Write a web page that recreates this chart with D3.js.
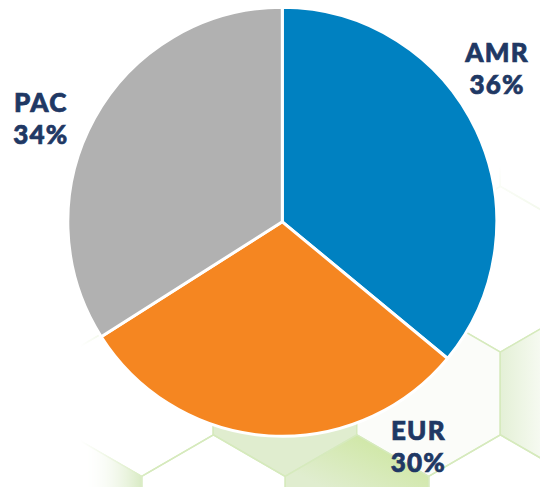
<!DOCTYPE html>
<html>
<head>
<meta charset="utf-8">
<script src="https://cdn.jsdelivr.net/npm/d3@7"></script>
<style>
	html, body { margin: 0; padding: 0; background: #fff; }
	svg { display: block; }
</style>
</head>
<body>
<div id="chart"></div>
<script>
// chart data
const regions = ['AMR', 'EUR', 'PAC'];
const shares = [36, 30, 34];
const colors = ['#0081c1', '#f58621', '#b1b1b1'];

const width = 540, height = 487;
const cx = 282.3, cy = 221.8, radius = 214.5;
const labelRadius = 263;
const labelAngles = [54.5, 149, 293]; // degrees clockwise from 12 o'clock

const svg = d3.select('#chart').append('svg')
	.attr('width', width)
	.attr('height', height)
	.attr('viewBox', `0 0 ${width} ${height}`);

const defs = svg.append('defs');

// ---- background hexagon pattern ----
const hexW = 143.5, hexS = hexW / Math.sqrt(3), rowPitch = 1.5 * hexS;
const rowY0 = 393.5;

const fadeX = defs.append('linearGradient').attr('id', 'fadeX')
	.attr('gradientUnits', 'userSpaceOnUse')
	.attr('x1', 80).attr('y1', 0).attr('x2', 150).attr('y2', 0);
fadeX.append('stop').attr('offset', '0%').attr('stop-color', '#000');
fadeX.append('stop').attr('offset', '100%').attr('stop-color', '#fff');
defs.append('mask').attr('id', 'maskX').attr('maskUnits', 'userSpaceOnUse')
	.attr('x', 0).attr('y', 0).attr('width', width).attr('height', height)
	.append('rect').attr('width', width).attr('height', height).attr('fill', 'url(#fadeX)');

const fadeY = defs.append('linearGradient').attr('id', 'fadeY')
	.attr('gradientUnits', 'userSpaceOnUse')
	.attr('x1', 0).attr('y1', 165).attr('x2', 0).attr('y2', 330);
fadeY.append('stop').attr('offset', '0%').attr('stop-color', '#000');
fadeY.append('stop').attr('offset', '100%').attr('stop-color', '#fff');
defs.append('mask').attr('id', 'maskY').attr('maskUnits', 'userSpaceOnUse')
	.attr('x', 0).attr('y', 0).attr('width', width).attr('height', height)
	.append('rect').attr('width', width).attr('height', height).attr('fill', 'url(#fadeY)');

const makeGrad = function(id, x1, y1, x2, y2, c1, c2) {
	let g = defs.append('linearGradient').attr('id', id)
		.attr('gradientUnits', 'userSpaceOnUse')
		.attr('x1', x1).attr('y1', y1).attr('x2', x2).attr('y2', y2);
	g.append('stop').attr('offset', '0%').attr('stop-color', c1);
	g.append('stop').attr('offset', '100%').attr('stop-color', c2);
	return `url(#${id})`;
}

// fills of a few tiles, keyed "row:centerX"
const hexFills = {
	'0:285': '#e0edcf',
	'1:70': makeGrad('gB70', 141, 0, 84, 0, '#d4e8bd', '#ffffff'),
	'1:357': makeGrad('gB357', 380, 438, 350, 500, '#cfe7a4', '#e0edcf'),
	'0:572': makeGrad('gA572', 500, 0, 545, 0, '#e4f0d6', '#f8fbf4'),
	'-1:500': makeGrad('gC500', 0, 352, 0, 300, '#e6f1da', '#fbfdf9'),
	'0:428.5': '#fbfcf9',
	'1:500': '#f8fbf4'
};

const hexPath = function(x, y) {
	let pts = d3.range(6).map(i => {
		let a = (-90 + 60 * i) * Math.PI / 180;
		return [x + hexS * Math.cos(a), y + hexS * Math.sin(a)];
	});
	return 'M' + pts.map(p => p.join(',')).join('L') + 'Z';
}

const hexes = [];
for (let j = -3; j <= 1; j++) {
	let startX = (j % 2 === 0) ? 285 : 213.5;
	for (let k = -3; k <= 3; k++) {
		let x = startX + k * hexW;
		hexes.push({ j: j, x: x, y: rowY0 + j * rowPitch, key: `${j}:${x}` });
	}
}

const bg = svg.append('g').attr('mask', 'url(#maskX)')
	.append('g').attr('mask', 'url(#maskY)');

bg.selectAll('path.hex')
	.data(hexes)
	.enter().append('path')
	.attr('class', 'hex')
	.attr('d', d => hexPath(d.x, d.y))
	.attr('fill', d => hexFills[d.key] || 'none')
	.attr('stroke', '#d6eabd')
	.attr('stroke-width', 1.5);

// ---- pie ----
const pieData = regions.map((r, i) => ({ region: r, value: shares[i], color: colors[i] }));

const pie = d3.pie()
	.sort(null)
	.value(d => d.value);

const arc = d3.arc()
	.innerRadius(0)
	.outerRadius(radius);

const pieG = svg.append('g')
	.attr('transform', `translate(${cx}, ${cy})`);

pieG.selectAll('path.slice')
	.data(pie(pieData))
	.enter().append('path')
	.attr('class', 'slice')
	.attr('d', arc)
	.attr('fill', d => d.data.color)
	.attr('stroke', '#fff')
	.attr('stroke-width', 3)
	.attr('stroke-linejoin', 'round');

// ---- labels ----
const labels = pieG.selectAll('text.label')
	.data(pieData)
	.enter().append('text')
	.attr('class', 'label')
	.attr('text-anchor', 'middle')
	.style('font-family', 'Lato, "Open Sans", sans-serif')
	.style('font-weight', 900)
	.style('font-size', '26px')
	.style('letter-spacing', '1.2px')
	.style('fill', '#1f3864')
	.style('stroke', '#1f3864')
	.style('stroke-width', 0.7)
	.attr('transform', (d, i) => {
		let p = d3.pointRadial(labelAngles[i] * Math.PI / 180, labelRadius);
		return `translate(${p[0]}, ${p[1]})`;
	});

labels.append('tspan')
	.attr('x', 0.6)
	.attr('y', -7.5)
	.text(d => d.region);

labels.append('tspan')
	.attr('x', 0.6)
	.attr('y', 25)
	.text(d => d.value + '%');
</script>
</body>
</html>
